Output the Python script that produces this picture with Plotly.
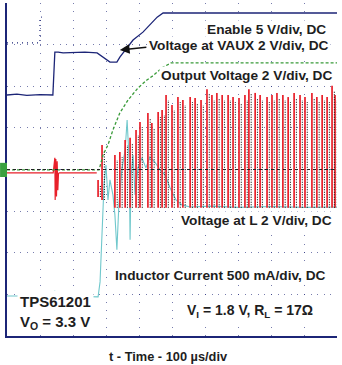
import plotly.graph_objects as go

# Time in microseconds (100 us/div); amplitudes in screen divisions (8 div tall)
enable_t = [0, 100, 100, 106]
enable_v = [7.04, 7.04, 7.66, 7.66]

vaux_t = [0, 30, 60, 100, 139, 145, 155, 170, 236, 273, 312, 333, 342, 382, 412, 455, 473, 494, 1000]
vaux_v = [5.79, 5.81, 5.78, 5.80, 5.79, 6.82, 6.82, 6.80, 6.82, 6.80, 6.58, 6.58, 6.70, 7.11, 7.30, 7.66, 7.76, 7.76, 7.76]

vout_t = [0, 279, 291, 306, 321, 342, 367, 397, 424, 442, 473, 497, 1000]
vout_v = [3.99, 3.99, 4.35, 4.59, 4.95, 5.36, 5.67, 5.96, 6.15, 6.25, 6.46, 6.56, 6.56]

vl_pre_t = [0, 140, 145, 146, 148, 150, 152, 154, 156, 158, 272]
vl_pre_v = [3.92, 3.92, 4.28, 3.27, 4.25, 3.35, 4.20, 3.50, 3.90, 3.92, 3.92]

pulse_t = [276, 288, 327, 342, 358, 373, 391, 403, 427, 439, 458, 470, 482, 500, 518, 533, 555,
           570, 588, 606, 621, 636, 652, 670, 685, 703, 721, 733, 752, 767, 788, 803, 818, 836,
           852, 870, 888, 903, 924, 939, 955, 970, 985, 994]
pulse_top = [3.75, 4.59, 4.35, 4.42, 4.71, 4.76, 4.95, 5.14, 5.36, 5.12, 5.38, 5.43, 5.79, 5.55,
             5.74, 5.67, 5.74, 5.72, 5.67, 5.93, 5.79, 5.84, 5.79, 5.79, 5.74, 5.72, 5.79, 5.93,
             5.84, 5.79, 5.74, 5.79, 5.84, 5.79, 5.74, 5.84, 5.79, 5.74, 5.84, 5.74, 5.79, 5.74,
             6.01, 5.79]
pulse_bot = [3.34, 3.27] + [3.08] * 42

il_t = [0, 136, 145, 152, 161, 276, 282, 285, 288, 291, 294, 300, 306, 312, 321, 327, 333, 339,
        348, 358, 364, 370, 373, 376, 382, 388, 397, 409, 421, 433, 448, 464, 479, 494, 512, 530,
        555, 620, 700, 800, 900, 1000]
il_v = [0.96, 0.96, 1.08, 1.01, 0.96, 0.94, 1.30, 1.83, 2.43, 2.95, 3.63, 4.11, 3.27, 3.75, 3.39,
        2.91, 2.07, 3.15, 3.99, 4.47, 5.19, 4.23, 2.31, 3.87, 4.35, 3.39, 4.04, 4.28, 4.04, 4.30,
        4.18, 3.99, 3.87, 3.56, 3.27, 3.15, 3.10, 3.12, 3.09, 3.11, 3.09, 3.10]

ref_levels = [7.04, 5.02, 3.99, 2.98, 0.98]
ref_colors = ["#8a8fd0", "#111111", "#3aa040", "#e8202a", "#70c8cc"]

NAVY = "#1c2577"
RED = "#e8202a"
CYAN = "#70c8cc"
GREEN = "#3a9b3a"

fig = go.Figure()

# Inductor current
fig.add_trace(go.Scatter(x=il_t, y=il_v, mode="lines", line=dict(color=CYAN, width=1.1), hoverinfo="skip"))

# Voltage at L : pre-start and switching pulses
fig.add_trace(go.Scatter(x=vl_pre_t, y=vl_pre_v, mode="lines", line=dict(color=RED, width=1.2), hoverinfo="skip"))
px_, py_ = [], []
bx_, by_ = [], []
for t, top, bot in zip(pulse_t, pulse_top, pulse_bot):
    px_ += [t, t, None]
    py_ += [bot, top, None]
    bx_ += [t + 7, t + 7, None]
    by_ += [bot, top - 0.12, None]
fig.add_trace(go.Scatter(x=px_, y=py_, mode="lines", line=dict(color=RED, width=1.7), hoverinfo="skip"))
fig.add_trace(go.Scatter(x=bx_, y=by_, mode="lines", line=dict(color="#111111", width=1.1, dash="1px,1.5px"), hoverinfo="skip"))

# Output voltage
fig.add_trace(go.Scatter(x=vout_t, y=vout_v, mode="lines", line=dict(color=GREEN, width=1.3, dash="3px,2px"), hoverinfo="skip"))

# VAUX and Enable
fig.add_trace(go.Scatter(x=vaux_t, y=vaux_v, mode="lines", line=dict(color=NAVY, width=1.3), hoverinfo="skip"))
fig.add_trace(go.Scatter(x=enable_t, y=enable_v, mode="lines", line=dict(color=NAVY, width=1.3, dash="1px,4px"), hoverinfo="skip"))

# channel reference markers on the left edge
fig.add_trace(go.Scatter(x=[-12] * len(ref_levels), y=ref_levels, mode="markers", cliponaxis=False,
                         marker=dict(symbol="cross-thin", size=7, color=ref_colors,
                                     line=dict(color=ref_colors, width=1.5)), hoverinfo="skip"))
fig.add_shape(type="rect", xref="paper", yref="y", x0=-0.021, x1=0.0, y0=ref_levels[2] - 0.17,
              y1=ref_levels[2] + 0.17, fillcolor="#3aa040", line=dict(width=0))

# centre dashed line
fig.add_shape(type="line", xref="paper", yref="y", x0=0, x1=1, y0=4, y1=4,
              line=dict(color="#222222", width=1, dash="3px,3px"))

FONT = "Liberation Sans, Arial, sans-serif"
TXT = "#1e1e1e"
def lab(text, x, y, xanchor="right", size=13.7):
    fig.add_annotation(text="<b>" + text + "</b>", xref="paper", yref="paper", x=x, y=y,
                       xanchor=xanchor, yanchor="middle", showarrow=False,
                       font=dict(family=FONT, size=size, color=TXT),
                       bgcolor="white", borderpad=1)

lab("Enable 5 V/div, DC", 0.973, 0.919)
lab("Voltage at VAUX 2 V/div, DC", 0.982, 0.872)
lab("Output Voltage 2 V/div, DC", 0.991, 0.781)
lab("Voltage at L 2 V/div, DC", 0.991, 0.348)
lab("Inductor Current 500 mA/div, DC", 0.973, 0.183)
fig.add_annotation(text="<b>V<sub>I</sub> = 1.8 V, R<sub>L</sub> = 17Ω</b>", xref="paper", yref="paper",
                   x=0.735, y=0.074, xanchor="center", yanchor="middle", showarrow=False,
                   font=dict(family=FONT, size=14, color=TXT), bgcolor="white", borderpad=4)
fig.add_annotation(text="<b>TPS61201<br>V<sub>O</sub> = 3.3 V</b>", xref="paper", yref="paper",
                   x=0.03, y=0.07, xanchor="left", yanchor="middle", align="left", showarrow=False,
                   font=dict(family=FONT, size=15, color=TXT), bgcolor="white", borderpad=2)
fig.add_annotation(text="<b>t - Time - 100 µs/div</b>", xref="paper", yref="paper",
                   x=0.488, y=-0.063, xanchor="center", yanchor="middle", showarrow=False,
                   font=dict(family=FONT, size=12.8, color=TXT))
# arrow pointing to VAUX trace
fig.add_annotation(x=342, y=6.87, xref="x", yref="y", ax=28, ay=-3, text="", showarrow=True,
                   arrowhead=2, arrowsize=1.3, arrowwidth=1.5, arrowcolor="#111111")

GRID = "rgba(28,37,119,0.6)"
fig.update_layout(
    width=342, height=365, margin=dict(l=7, r=5, t=3, b=29),
    paper_bgcolor="white", plot_bgcolor="white", showlegend=False,
    xaxis=dict(range=[0, 1000], dtick=100, tick0=0, showticklabels=False, ticks="",
               showgrid=True, gridcolor=GRID, griddash="1px,7.3px", gridwidth=1,
               zeroline=False, showline=True, linecolor=NAVY, linewidth=1.5),
    yaxis=dict(range=[0, 8], dtick=1, tick0=0, showticklabels=False, ticks="",
               showgrid=True, gridcolor=GRID, griddash="1px,5.6px", gridwidth=1,
               zeroline=False, showline=True, linecolor=NAVY, linewidth=1.5),
)

fig.write_html("out.html")
